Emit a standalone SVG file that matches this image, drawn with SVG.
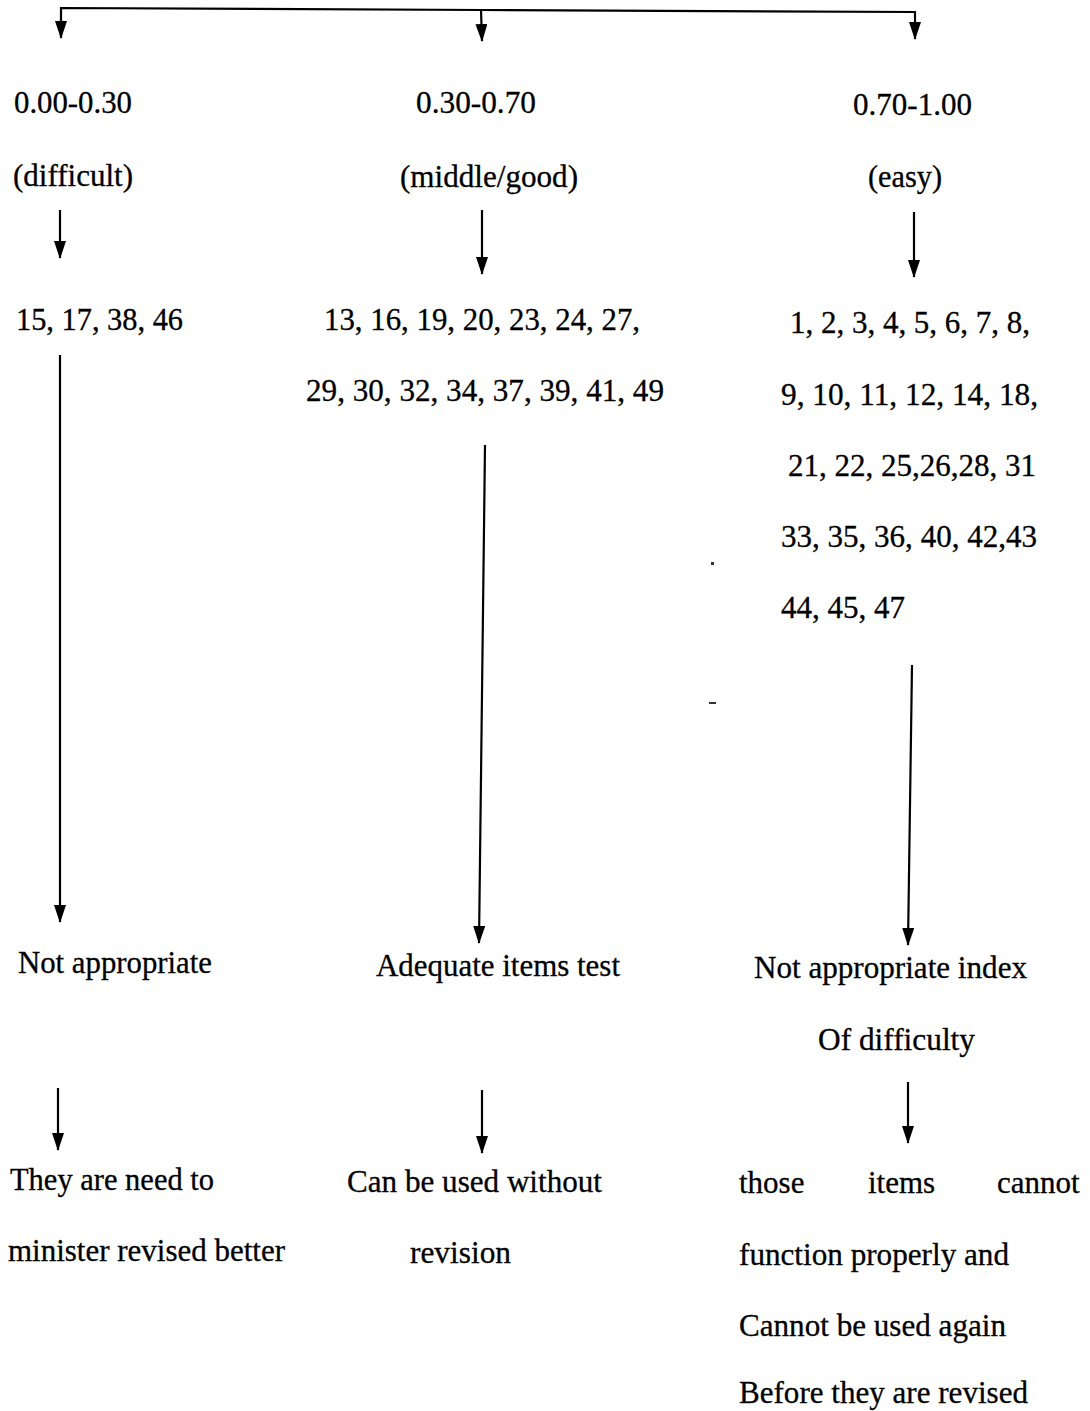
<svg xmlns="http://www.w3.org/2000/svg" width="1090" height="1411" viewBox="0 0 1090 1411">
<style>
text{font-family:"Liberation Serif","Times New Roman",serif;font-size:31px;fill:#000;stroke:#000;stroke-width:0.3}
.c{fill:none;stroke:#000;stroke-width:2.2}
</style>
<defs>
<marker id="ad" markerUnits="userSpaceOnUse" markerWidth="18" markerHeight="12" viewBox="0 0 18 12" refX="17" refY="6" orient="auto">
<path d="M0,0 L18,6 L0,12 Z" fill="#000"/>
</marker>
</defs>
<rect width="1090" height="1411" fill="#fff"/>
<g id="connectors">
<polyline class="c" points="61,36 61,8 481,10 915,12 915,39" marker-end="url(#ad)"/>
<line class="c" x1="61" y1="20" x2="61" y2="38" marker-end="url(#ad)"/>
<line class="c" x1="481" y1="10" x2="482" y2="41" marker-end="url(#ad)"/>
<line class="c" x1="60" y1="210" x2="60" y2="258" marker-end="url(#ad)"/>
<line class="c" x1="482" y1="210" x2="482" y2="274" marker-end="url(#ad)"/>
<line class="c" x1="914" y1="212" x2="914" y2="277" marker-end="url(#ad)"/>
<line class="c" x1="60" y1="355" x2="60" y2="922" marker-end="url(#ad)"/>
<line class="c" x1="485" y1="445" x2="479" y2="943" marker-end="url(#ad)"/>
<line class="c" x1="912" y1="665" x2="908" y2="945" marker-end="url(#ad)"/>
<line class="c" x1="58" y1="1088" x2="58" y2="1150" marker-end="url(#ad)"/>
<line class="c" x1="482" y1="1090" x2="482" y2="1153" marker-end="url(#ad)"/>
<line class="c" x1="908" y1="1082" x2="908" y2="1143" marker-end="url(#ad)"/>
</g>
<g id="range-difficult">
<text x="14" y="113" textLength="118" lengthAdjust="spacingAndGlyphs">0.00-0.30</text>
<text x="13" y="186" textLength="120" lengthAdjust="spacingAndGlyphs">(difficult)</text>
</g>
<g id="range-middle">
<text x="416" y="113" textLength="120" lengthAdjust="spacingAndGlyphs">0.30-0.70</text>
<text x="400" y="187" textLength="178" lengthAdjust="spacingAndGlyphs">(middle/good)</text>
</g>
<g id="range-easy">
<text x="853" y="115" textLength="119" lengthAdjust="spacingAndGlyphs">0.70-1.00</text>
<text x="868" y="187" textLength="74" lengthAdjust="spacingAndGlyphs">(easy)</text>
</g>
<g id="items-difficult">
<text x="16" y="330" textLength="167" lengthAdjust="spacingAndGlyphs">15, 17, 38, 46</text>
</g>
<g id="items-middle">
<text x="324" y="330" textLength="316" lengthAdjust="spacingAndGlyphs">13, 16, 19, 20, 23, 24, 27,</text>
<text x="306" y="401" textLength="358" lengthAdjust="spacingAndGlyphs">29, 30, 32, 34, 37, 39, 41, 49</text>
</g>
<g id="items-easy">
<text x="790" y="333" textLength="240" lengthAdjust="spacingAndGlyphs">1, 2, 3, 4, 5, 6, 7, 8,</text>
<text x="781" y="405" textLength="257" lengthAdjust="spacingAndGlyphs">9, 10, 11, 12, 14, 18,</text>
<text x="788" y="476" textLength="248" lengthAdjust="spacingAndGlyphs">21, 22, 25,26,28, 31</text>
<text x="781" y="547" textLength="256" lengthAdjust="spacingAndGlyphs">33, 35, 36, 40, 42,43</text>
<text x="781" y="618" textLength="124" lengthAdjust="spacingAndGlyphs">44, 45, 47</text>
</g>
<g id="result-difficult">
<text x="18" y="973" textLength="194" lengthAdjust="spacingAndGlyphs">Not appropriate</text>
</g>
<g id="result-middle">
<text x="376" y="976" textLength="244" lengthAdjust="spacingAndGlyphs">Adequate items test</text>
</g>
<g id="result-easy">
<text x="754" y="978" textLength="273" lengthAdjust="spacingAndGlyphs">Not appropriate index</text>
<text x="818" y="1050" textLength="157" lengthAdjust="spacingAndGlyphs">Of difficulty</text>
</g>
<g id="action-difficult">
<text x="10" y="1190" textLength="204" lengthAdjust="spacingAndGlyphs">They are need to</text>
<text x="8" y="1261" textLength="277" lengthAdjust="spacingAndGlyphs">minister revised better</text>
</g>
<g id="action-middle">
<text x="347" y="1192" textLength="255" lengthAdjust="spacingAndGlyphs">Can be used without</text>
<text x="410" y="1263" textLength="101" lengthAdjust="spacingAndGlyphs">revision</text>
</g>
<g id="action-easy">
<text y="1193"><tspan x="739">those</tspan><tspan x="868">items</tspan><tspan x="997">cannot</tspan></text>
<text x="739" y="1265" textLength="270" lengthAdjust="spacingAndGlyphs">function properly and</text>
<text x="739" y="1336" textLength="267" lengthAdjust="spacingAndGlyphs">Cannot be used again</text>
<text x="739" y="1403" textLength="289" lengthAdjust="spacingAndGlyphs">Before they are revised</text>
</g>
<rect x="711" y="562" width="3" height="3" fill="#333"/>
<rect x="709" y="702" width="7" height="2" fill="#333"/>
</svg>
